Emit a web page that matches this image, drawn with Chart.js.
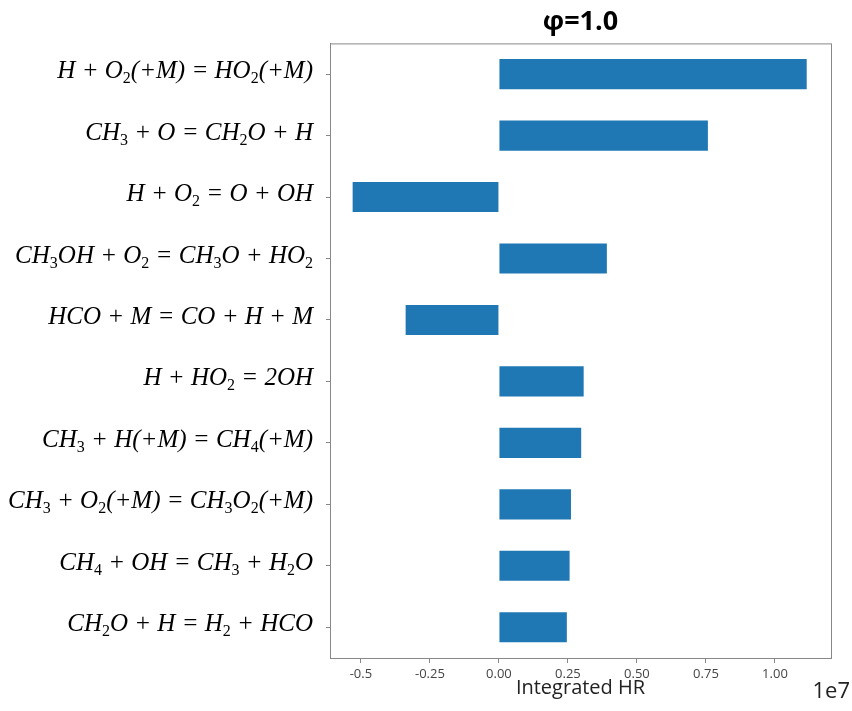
<!DOCTYPE html>
<html>
<head>
<meta charset="utf-8">
<script src="https://cdn.jsdelivr.net/npm/chart.js@4.4.1/dist/chart.umd.min.js"></script>
<style>
  html, body { margin: 0; padding: 0; background: #fff; }
</style>
</head>
<body>
<canvas id="hrChart" width="852" height="711"></canvas>
<script>
// reactions, top to bottom (a digit right after a letter is drawn as a subscript)
const reactions = [
    'H + O2(+M) = HO2(+M)',
    'CH3 + O = CH2O + H',
    'H + O2 = O + OH',
    'CH3OH + O2 = CH3O + HO2',
    'HCO + M = CO + H + M',
    'H + HO2 = 2OH',
    'CH3 + H(+M) = CH4(+M)',
    'CH3 + O2(+M) = CH3O2(+M)',
    'CH4 + OH = CH3 + H2O',
    'CH2O + H = H2 + HCO'
];
// integrated heat release, in units of 1e7
const integratedHR = [1.115, 0.757, -0.530, 0.391, -0.338, 0.307, 0.298, 0.261, 0.256, 0.246];
const xTickValues = [-0.5, -0.25, 0, 0.25, 0.5, 0.75, 1.0];
const xTickLabels = ['-0.5', '-0.25', '0.00', '0.25', '0.50', '0.75', '1.00'];

const mainFont = 'italic 25px "Liberation Serif", serif';
const subFont = '16px "Liberation Serif", serif';

function splitRuns(label) {
    const runs = [];
    for (let i = 0; i < label.length; i++) {
        const ch = label[i];
        const sub = /[0-9]/.test(ch) && i > 0 && /[A-Za-z]/.test(label[i - 1]);
        const last = runs[runs.length - 1];
        if (last && last.sub === sub) last.text += ch;
        else runs.push({ text: ch, sub: sub });
    }
    return runs;
}

// y labels with real subscripts, placed at the category scale's tick positions
const reactionLabels = {
    id: 'reactionLabels',
    afterDraw(chart) {
        const { ctx } = chart;
        const yScale = chart.scales.y;
        const rightEdge = yScale.right - 17;
        ctx.save();
        ctx.fillStyle = '#000';
        ctx.textBaseline = 'alphabetic';
        ctx.textAlign = 'left';
        chart.data.labels.forEach((label, i) => {
            const y = yScale.getPixelForTick(i) + 4;
            const runs = splitRuns(label);
            let width = 0;
            runs.forEach(r => {
                ctx.font = r.sub ? subFont : mainFont;
                r.w = ctx.measureText(r.text).width;
                width += r.w;
            });
            let x = rightEdge - width;
            runs.forEach(r => {
                ctx.font = r.sub ? subFont : mainFont;
                ctx.fillText(r.text, x, r.sub ? y + 5 : y);
                x += r.w;
            });
        });
        ctx.restore();
    }
};

const frame = {
    id: 'frame',
    afterDraw(chart) {
        const { ctx, chartArea: a } = chart;
        ctx.save();
        ctx.strokeStyle = '#888';
        ctx.lineWidth = 1;
        ctx.strokeRect(a.left + 0.5, a.top + 0.5, a.right - a.left, a.bottom - a.top);
        ctx.fillStyle = '#222';
        ctx.font = '22px "Open Sans", sans-serif';
        ctx.textAlign = 'right';
        ctx.textBaseline = 'middle';
        ctx.fillText('1e7', 850, 692);
        ctx.restore();
    }
};

new Chart(document.getElementById('hrChart'), {
    type: 'bar',
    data: {
        labels: reactions,
        datasets: [{
            data: integratedHR,
            backgroundColor: '#1f77b4',
            barPercentage: 0.49,
            categoryPercentage: 1.0
        }]
    },
    options: {
        indexAxis: 'y',
        responsive: false,
        animation: false,
        layout: { padding: { left: 0, right: 21, top: 0, bottom: 0 } },
        plugins: {
            legend: { display: false },
            tooltip: { enabled: false },
            title: {
                display: true,
                fullSize: false,
                text: 'φ=1.0',
                color: '#000',
                font: { family: '"Open Sans", sans-serif', size: 27, weight: 'bold' },
                padding: { top: 6, bottom: 5 }
            }
        },
        scales: {
            x: {
                min: -0.612,
                max: 1.203,
                afterBuildTicks(scale) {
                    scale.ticks = xTickValues.map(v => ({ value: v }));
                },
                afterFit(scale) { scale.height = 53; },
                ticks: {
                    color: '#444',
                    font: { family: '"Open Sans", sans-serif', size: 13 },
                    padding: 3,
                    maxRotation: 0,
                    autoSkip: false,
                    callback: (v, i) => xTickLabels[i]
                },
                grid: { drawOnChartArea: false, drawTicks: true, tickLength: 5, color: '#888' },
                border: { color: '#888' },
                title: {
                    display: true,
                    text: 'Integrated HR',
                    color: '#222',
                    font: { family: '"Open Sans", sans-serif', size: 20 },
                    padding: { top: 0, bottom: 11 }
                }
            },
            y: {
                afterFit(scale) { scale.width = 330; },
                ticks: { display: false },
                grid: { offset: false, drawOnChartArea: false, drawTicks: true, tickLength: 4, color: '#888' },
                border: { color: '#888' }
            }
        }
    },
    plugins: [frame, reactionLabels]
});
</script>
</body>
</html>
